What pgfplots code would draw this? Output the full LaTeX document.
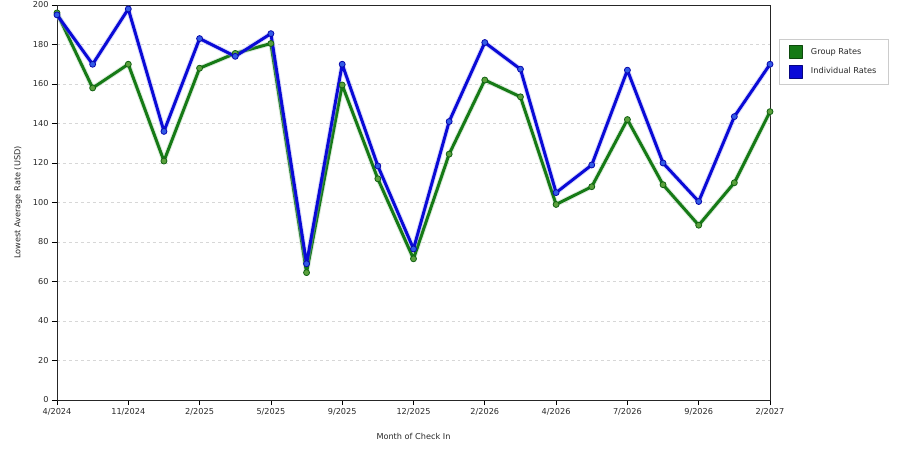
\documentclass[border=0pt]{standalone}
\usepackage{fontspec}
\setmainfont{DejaVu Sans}
\usepackage{pgfplots}
\pgfplotsset{compat=1.18}

\definecolor{grp}{RGB}{22,122,22}
\definecolor{grpfill}{RGB}{90,160,60}
\definecolor{ind}{RGB}{10,10,215}
\definecolor{indfill}{RGB}{50,90,230}
\definecolor{gridgray}{RGB}{215,215,215}
\definecolor{txt}{RGB}{40,40,40}

\pgfplotstableread{
x grp ind
0 196 195
1 158 170
2 170 198
3 121 136
4 168 183
5 175.5 174
6 180.5 185.5
7 64.5 69
8 159.5 170
9 112 118.5
10 71.5 76.5
11 124.5 141
12 162 181
13 153.5 167.5
14 99 105
15 108 119
16 142 167
17 109 120
18 88.5 100.5
19 110 143.5
20 146 170
}\rates

\begin{document}
\begin{tikzpicture}
\useasboundingbox (0,0) rectangle (900bp,450bp);
\begin{axis}[
  at={(57bp,50bp)}, anchor=south west,
  scale only axis, width=713bp, height=395bp,
  xmin=0, xmax=20, ymin=0, ymax=200,
  xtick={0,2,...,20},
  xticklabels={4/2024,11/2024,2/2025,5/2025,9/2025,12/2025,2/2026,4/2026,7/2026,9/2026,2/2027},
  ytick={0,20,...,200},
  tick align=outside, tick pos=left,
  major tick length=5bp,
  tick style={black, line width=0.7bp},
  axis line style={black!85, line width=0.8bp},
  ymajorgrids, grid style={gridgray, dashed, line width=0.6bp},
  tick label style={font=\fontsize{8.2}{10}\selectfont, text=txt},
  /pgf/number format/assume math mode=true,
  xlabel={Month of Check In},
  ylabel={Lowest Average Rate (USD)},
  label style={font=\fontsize{8.2}{10}\selectfont, text=txt},
  xlabel style={yshift=-11bp},
  ylabel style={yshift=4bp},
  legend style={at={(1.0126,0.914)}, anchor=north west, draw=black!20,
    font=\fontsize{8.2}{10}\selectfont, text=txt, row sep=6bp,
    inner xsep=10bp, inner ysep=6bp},
  legend cell align=left,
  clip=false,
]
\addplot[grp!40, line width=5bp, opacity=0.35, line join=round, forget plot] table[x=x,y=grp]{\rates};
\addplot[grp, line width=3bp, line join=round, mark=*, mark size=3bp,
  mark options={fill=grpfill, draw=grp!80!black, line width=0.8bp},
  legend image code/.code={\draw[fill=grp, draw=grp!60!black, line width=0.6bp] (0bp,-6.5bp) rectangle (13bp,6.5bp); \path (18bp,0bp);}]
  table[x=x,y=grp]{\rates};
\addlegendentry{Group Rates}
\addplot[ind!40, line width=5bp, opacity=0.35, line join=round, forget plot] table[x=x,y=ind]{\rates};
\addplot[ind, line width=3bp, line join=round, mark=*, mark size=3bp,
  mark options={fill=indfill, draw=ind!80!black, line width=0.8bp},
  legend image code/.code={\draw[fill=ind, draw=ind!60!black, line width=0.6bp] (0bp,-6.5bp) rectangle (13bp,6.5bp); \path (18bp,0bp);}]
  table[x=x,y=ind]{\rates};
\addlegendentry{Individual Rates}
\end{axis}
\end{tikzpicture}
\end{document}
